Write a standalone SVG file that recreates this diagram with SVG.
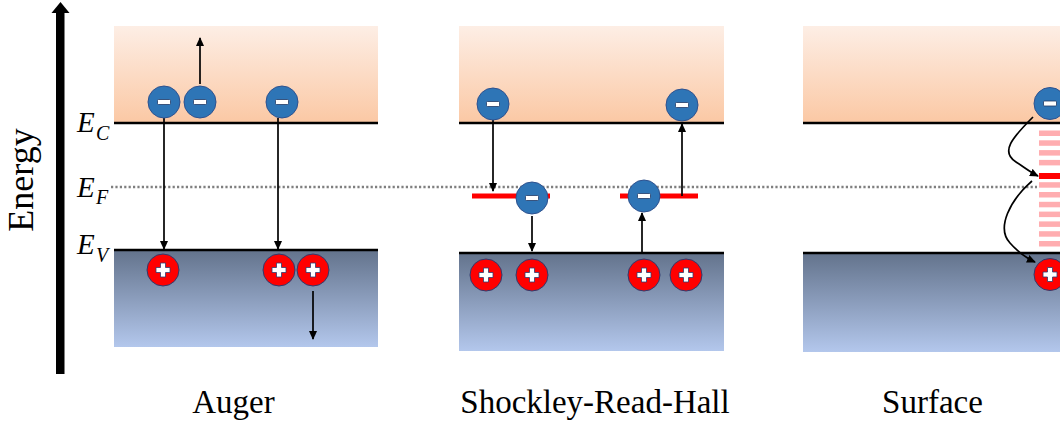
<svg xmlns="http://www.w3.org/2000/svg" width="1060" height="425" viewBox="0 0 1060 425">
  <defs>
    <linearGradient id="cb" x1="0" y1="0" x2="0" y2="1">
      <stop offset="0" stop-color="#fdeee5"/>
      <stop offset="1" stop-color="#fbc8a4"/>
    </linearGradient>
    <linearGradient id="vb" x1="0" y1="0" x2="0" y2="1">
      <stop offset="0" stop-color="#63738c"/>
      <stop offset="1" stop-color="#b3c7ec"/>
    </linearGradient>
    <marker id="ah" markerUnits="userSpaceOnUse" markerWidth="9" markerHeight="8" refX="8" refY="4" orient="auto">
      <path d="M0,0 L9,4 L0,8 z" fill="#000"/>
    </marker>
    <g id="el">
      <circle r="16" fill="#2e75b6" stroke="#2f528f" stroke-width="1"/>
      <rect x="-6.5" y="-2.5" width="13" height="5" rx="1" fill="#fff" stroke="#203864" stroke-width="0.8"/>
    </g>
    <g id="ho">
      <circle r="16" fill="#ff0000" stroke="#2f3b6e" stroke-width="1"/>
      <path d="M-2.5,-7 H2.5 V-2.5 H7 V2.5 H2.5 V7 H-2.5 V2.5 H-7 V-2.5 H-2.5 Z" fill="#fff" stroke="#2f3b6e" stroke-width="0.8"/>
    </g>
  </defs>
  <style>
    .lbl { font-family: "Liberation Serif", "Times New Roman", serif; fill: #000; }
    .band { stroke: #000; stroke-width: 2.5; }
    .arr { stroke: #000; stroke-width: 1.7; fill: none; marker-end: url(#ah); }
    .trap { stroke: #ff0000; stroke-width: 5; }
    .fermi { stroke: #7f7f7f; stroke-width: 2.5; stroke-dasharray: 2.2 2.2; }
  </style>
  <rect width="1060" height="425" fill="#fff"/>

  <!-- Energy axis -->
  <g id="axis">
    <rect x="56" y="12" width="8.5" height="362" fill="#000"/>
    <polygon points="51.5,13 60.5,2 69.5,13" fill="#000"/>
    <text class="lbl" font-size="36" text-anchor="middle" transform="translate(33,180) rotate(-90)">Energy</text>
  </g>

  <!-- Level labels -->
  <g id="labels-levels" class="lbl" font-style="italic">
    <text x="77" y="132" font-size="29">E</text><text x="96" y="140" font-size="20">C</text>
    <text x="77" y="197" font-size="29">E</text><text x="96" y="204" font-size="20">F</text>
    <text x="77" y="254" font-size="29">E</text><text x="96" y="262" font-size="20">V</text>
  </g>

  <!-- Bands -->
  <g id="panel-auger">
    <rect x="114" y="26" width="264" height="97" fill="url(#cb)"/>
    <rect x="114" y="250" width="264" height="97" fill="url(#vb)"/>
    <line class="band" x1="114" y1="123" x2="378" y2="123"/>
    <line class="band" x1="114" y1="250" x2="378" y2="250"/>
  </g>
  <g id="panel-srh">
    <rect x="459" y="26" width="265" height="97" fill="url(#cb)"/>
    <rect x="459" y="253" width="265" height="98" fill="url(#vb)"/>
    <line class="band" x1="459" y1="123" x2="724" y2="123"/>
    <line class="band" x1="459" y1="253" x2="724" y2="253"/>
  </g>
  <g id="panel-surface">
    <rect x="803" y="26" width="257" height="97" fill="url(#cb)"/>
    <rect x="803" y="253" width="257" height="99" fill="url(#vb)"/>
    <line class="band" x1="803" y1="123" x2="1060" y2="123"/>
    <line class="band" x1="803" y1="253" x2="1060" y2="253"/>
  </g>

  <!-- Fermi level -->
  <line id="fermi" class="fermi" x1="111" y1="187" x2="1037" y2="187"/>

  <!-- Surface states -->
  <g id="surface-states" fill="#ffadb0">
    <rect x="1039" y="130.5" width="21" height="5.5"/>
    <rect x="1039" y="140.3" width="21" height="5.5"/>
    <rect x="1039" y="150.1" width="21" height="5.5"/>
    <rect x="1039" y="159.9" width="21" height="5.5"/>
    <rect x="1039" y="173" width="21" height="6" fill="#ff0000"/>
    <rect x="1039" y="182.2" width="21" height="5.5"/>
    <rect x="1039" y="192" width="21" height="5.5"/>
    <rect x="1039" y="201.8" width="21" height="5.5"/>
    <rect x="1039" y="211.6" width="21" height="5.5"/>
    <rect x="1039" y="221.4" width="21" height="5.5"/>
    <rect x="1039" y="231.2" width="21" height="5.5"/>
    <rect x="1039" y="241" width="21" height="5.5"/>
  </g>

  <!-- SRH traps -->
  <g id="srh-traps">
    <line class="trap" x1="472" y1="196" x2="550" y2="196"/>
    <line class="trap" x1="620" y1="196" x2="698" y2="196"/>
  </g>

  <!-- Connectors -->
  <g id="connectors">
    <line class="arr" x1="200" y1="84" x2="200" y2="38"/>
    <line class="arr" x1="164" y1="118" x2="164" y2="249"/>
    <line class="arr" x1="278" y1="118" x2="278" y2="249"/>
    <line class="arr" x1="313" y1="291" x2="313" y2="339"/>
    <line class="arr" x1="493" y1="120" x2="493" y2="191"/>
    <line class="arr" x1="532" y1="216" x2="532" y2="251"/>
    <line class="arr" x1="642" y1="253" x2="642" y2="213"/>
    <line class="arr" x1="682" y1="196" x2="682" y2="124"/>
    <path class="arr" d="M1033,117 C1012,138 1000,152 1016,162 C1024,167 1030,172 1038,176"/>
    <path class="arr" d="M1032,181 C1010,200 996,228 1010,243 C1018,252 1026,258 1035,262"/>
  </g>

  <!-- Carriers -->
  <g id="auger-carriers">
    <use href="#el" x="164" y="102"/>
    <use href="#el" x="200" y="102"/>
    <use href="#el" x="282" y="102"/>
    <use href="#ho" x="163" y="270"/>
    <use href="#ho" x="279" y="270"/>
    <use href="#ho" x="313" y="270"/>
  </g>
  <g id="srh-carriers">
    <use href="#el" x="493" y="104"/>
    <use href="#el" x="682" y="105"/>
    <use href="#el" x="532" y="198"/>
    <use href="#el" x="644" y="196"/>
    <use href="#ho" x="486" y="275"/>
    <use href="#ho" x="532" y="275"/>
    <use href="#ho" x="644" y="275"/>
    <use href="#ho" x="686" y="275"/>
  </g>
  <g id="surface-carriers">
    <use href="#el" x="1050" y="103.5"/>
    <use href="#ho" x="1050" y="274.5"/>
  </g>

  <!-- Titles -->
  <g id="titles" class="lbl" font-size="33" text-anchor="middle">
    <text x="233.5" y="413">Auger</text>
    <text x="595" y="413">Shockley-Read-Hall</text>
    <text x="932.5" y="413">Surface</text>
  </g>
</svg>
